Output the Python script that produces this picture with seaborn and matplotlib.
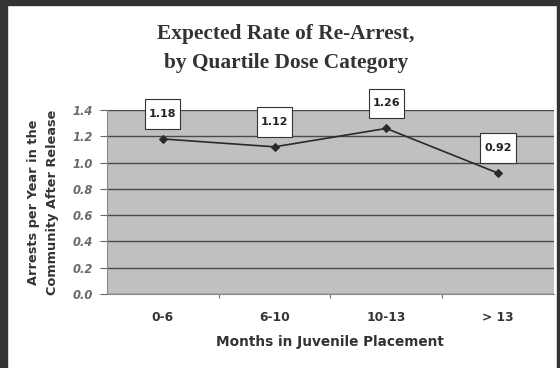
import matplotlib
matplotlib.use("Agg")
import matplotlib.pyplot as plt
import seaborn as sns
import pandas as pd
from matplotlib.ticker import FixedLocator

categories = ["0-6", "6-10", "10-13", "> 13"]
rates = [1.18, 1.12, 1.26, 0.92]
y_ticks = [0.0, 0.2, 0.4, 0.6, 0.8, 1.0, 1.2, 1.4]

df = pd.DataFrame({"cat": categories, "rate": rates})

sns.set_theme(style="white")
plt.rcParams['font.family'] = ['DejaVu Sans']

fig = plt.figure(figsize=(5.6, 3.68), dpi=100)
fig.patch.set_facecolor("white")
ax = fig.add_axes([0.191, 0.201, 0.798, 0.500])
ax.set_facecolor("#c0c0c0")

sns.lineplot(data=df, x="cat", y="rate", ax=ax, color="#2a2a2a", marker="D",
             markersize=4.5, markeredgecolor="#2a2a2a", linewidth=1.2, sort=False)

ax.set_ylim(0, 1.4)
ax.set_xlim(-0.5, 3.5)
ax.set_yticks(y_ticks)
ax.set_yticklabels([f"{v:.1f}" for v in y_ticks], fontsize=8.3, fontweight="bold",
                   fontstyle="italic", color="#6a6a6a")
ax.yaxis.grid(True, color="#4a4a4a", linewidth=1.0)
ax.set_axisbelow(True)
ax.tick_params(axis="y", length=5, width=0.8, color="#666666", pad=5, left=True)
ax.set_xticks(range(len(categories)))
ax.set_xticklabels(categories, fontsize=8.8, fontweight="bold", color="#333333")
ax.tick_params(axis="x", which="major", length=0, pad=12)
ax.xaxis.set_minor_locator(FixedLocator([0.5, 1.5, 2.5]))
ax.tick_params(axis="x", which="minor", length=3, width=0.8, color="#777777", bottom=True, direction="out")

for s in ["top", "right"]:
    ax.spines[s].set_visible(False)
ax.spines["left"].set_color("#888888")
ax.spines["bottom"].set_color("#888888")
ax.spines["left"].set_linewidth(0.8)
ax.spines["bottom"].set_linewidth(0.8)

ax.set_xlabel("Months in Juvenile Placement", fontsize=9.8, fontweight="bold",
              color="#333333", labelpad=8)
ax.set_ylabel("Arrests per Year in the\nCommunity After Release", fontsize=9.3,
              fontweight="bold", color="#333333", labelpad=10, linespacing=1.6)

for i, v in enumerate(rates):
    ax.annotate(f"{v:.2f}", xy=(i, v), xytext=(0, 18), textcoords="offset points",
                ha="center", va="center", fontsize=8, fontweight="bold", color="#222222",
                bbox=dict(boxstyle="square,pad=0.35", fc="white", ec="#333333", lw=0.8,
                          mutation_aspect=2.5))

fig.text(0.511, 0.907, "Expected Rate of Re-Arrest,", ha="center", va="center",
         fontsize=15.4, fontweight="bold", family="Liberation Serif", color="#333333")
fig.text(0.511, 0.830, "by Quartile Dose Category", ha="center", va="center",
         fontsize=15.4, fontweight="bold", family="Liberation Serif", color="#333333")

# dark frame edges
fig.patches.append(plt.Rectangle((0, 0), 7/560, 1, transform=fig.transFigure,
                                 color="#333333", zorder=10))
fig.patches.append(plt.Rectangle((0, 1 - 5/368), 1, 5/368, transform=fig.transFigure,
                                 color="#333333", zorder=10))
fig.patches.append(plt.Rectangle((1 - 3/560, 0), 3/560, 1, transform=fig.transFigure,
                                 color="#333333", zorder=10))

fig.savefig("out.png", dpi=100)
